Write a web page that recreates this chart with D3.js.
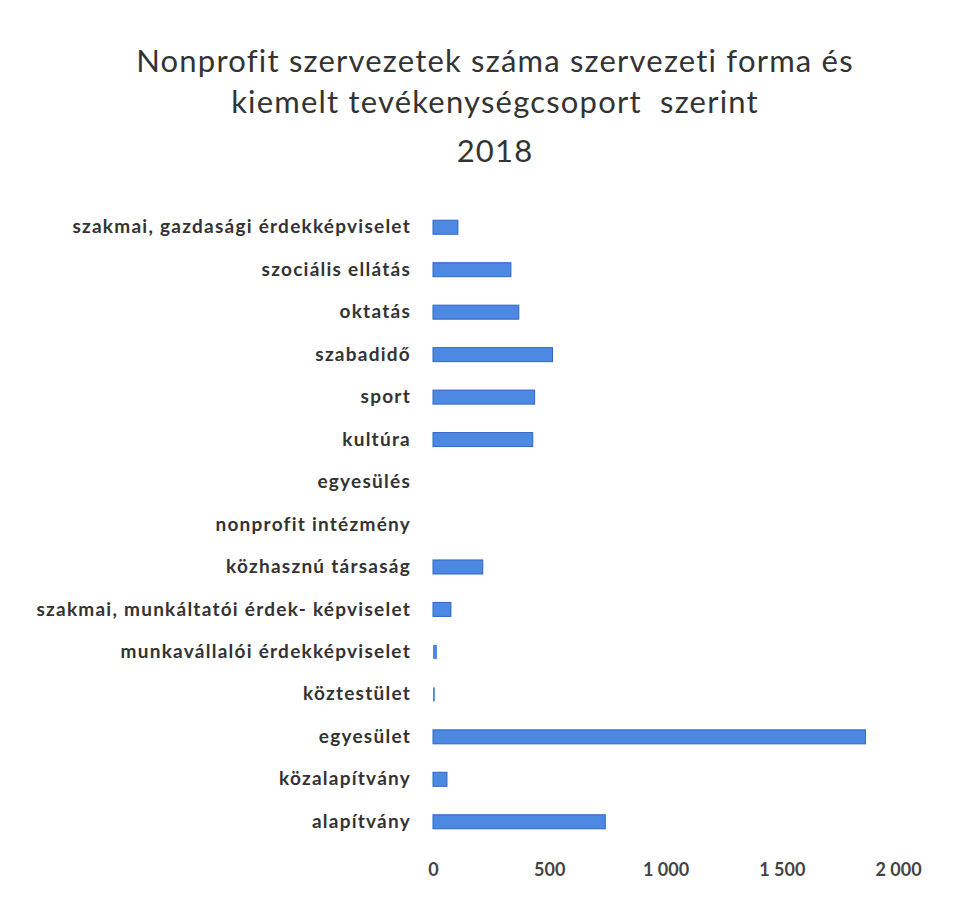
<!DOCTYPE html>
<html><head><meta charset="utf-8">
<script src="https://cdn.jsdelivr.net/npm/d3@7"></script>
<style>body{margin:0;background:#fff;}svg{display:block;}</style>
</head><body>
<script>
const categories = ["szakmai, gazdasági érdekképviselet","szociális ellátás","oktatás","szabadidő","sport","kultúra","egyesülés","nonprofit intézmény","közhasznú társaság","szakmai, munkáltatói érdek- képviselet","munkavállalói érdekképviselet","köztestület","egyesület","közalapítvány","alapítvány"];
const values = [107,335,369,514,437,429,0,0,214,77,17,8,1860,60,741];
const tickValues = [0,500,1000,1500,2000];
const titleLines = ["Nonprofit szervezetek száma szervezeti forma és","kiemelt tevékenységcsoport  szerint","2018"];

const W=960,H=899;
const svg=d3.select("body").append("svg").attr("width",W).attr("height",H);
const x=d3.scaleLinear().domain([0,2000]).range([433,898]);
const y=d3.scaleBand().domain(categories).range([206,843]).paddingInner(0.67).paddingOuter(0.335);

svg.append("g").selectAll("text").data(titleLines).join("text")
 .attr("x",495).attr("y",(d,i)=>[72,113,162][i]).attr("text-anchor","middle")
 .attr("font-family","Lato, 'Open Sans', sans-serif").attr("font-size",31).attr("fill","#333")
 .attr("letter-spacing","1.2").attr("xml:space","preserve").style("white-space","pre")
 .text(d=>d);

svg.append("g").selectAll("rect").data(values).join("rect")
 .attr("x",x(0)).attr("y",(d,i)=>y(categories[i]))
 .attr("width",d=>x(d)-x(0)).attr("height",y.bandwidth())
 .attr("fill","#4d88e2").attr("stroke",d=>d>20?"#2f66c4":"none").attr("stroke-width",1);

const yAxis=d3.axisLeft(y).tickSize(0).tickPadding(0);
const ga=svg.append("g").attr("transform","translate(411,0)").call(yAxis);
ga.select(".domain").remove();
ga.selectAll("text").attr("font-family","Lato, sans-serif").attr("font-weight","bold").attr("font-size",19).attr("fill","#333").attr("letter-spacing","1.25");

const xAxis=d3.axisBottom(x).tickValues(tickValues).tickSize(0).tickPadding(0)
 .tickFormat(d=>d3.format(",")(d).replace(",","\u00a0"));
const gx=svg.append("g").attr("transform","translate(0,863)").call(xAxis);
gx.select(".domain").remove();
gx.selectAll("text").attr("font-family","Lato, sans-serif").attr("font-weight","bold").attr("font-size",18).attr("fill","#444").attr("dy","0.71em");
</script>
</body></html>
